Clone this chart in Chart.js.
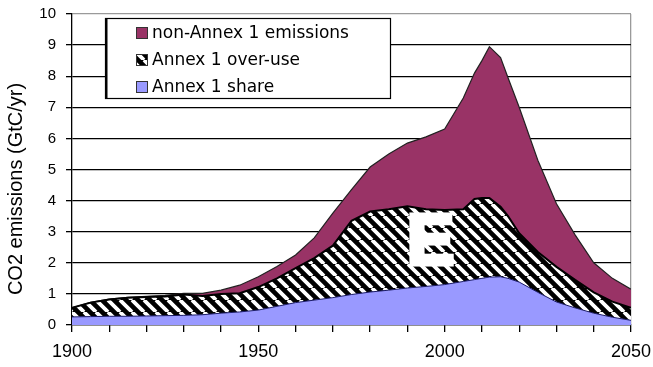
<!DOCTYPE html>
<html>
<head>
<meta charset="utf-8">
<script src="https://cdn.jsdelivr.net/npm/chart.js@4/dist/chart.umd.min.js"></script>
<style>
  html, body { margin: 0; padding: 0; background: #fff; }
  #wrap { width: 653px; height: 367px; position: relative; }
</style>
</head>
<body>
<div id="wrap"><canvas id="c" width="653" height="367"></canvas></div>
<script>
// Years of the emission path (GtC/yr per layer, stacked bottom to top)
const years = [1900, 1905, 1910, 1915, 1920, 1925, 1930, 1935, 1940, 1945,
               1950, 1955, 1960, 1965, 1970, 1975, 1980, 1985, 1990, 1995,
               2000, 2005, 2008, 2010, 2012, 2015, 2017, 2020, 2025, 2030,
               2035, 2040, 2045, 2050];

// Annex 1 fair share
const annexShare = [0.26, 0.27, 0.28, 0.28, 0.29, 0.30, 0.31, 0.33, 0.38, 0.42,
                    0.48, 0.60, 0.72, 0.80, 0.88, 0.98, 1.06, 1.12, 1.19, 1.24,
                    1.30, 1.40, 1.46, 1.50, 1.54, 1.55, 1.50, 1.38, 1.05, 0.74,
                    0.55, 0.38, 0.25, 0.15];

// Annex 1 emissions above its share
const annexOveruse = [0.29, 0.45, 0.54, 0.60, 0.61, 0.62, 0.67, 0.60, 0.62, 0.60,
                      0.74, 0.90, 1.11, 1.35, 1.67, 2.37, 2.59, 2.60, 2.63, 2.48,
                      2.40, 2.32, 2.59, 2.58, 2.54, 2.25, 2.00, 1.57, 1.30, 1.13,
                      0.90, 0.67, 0.50, 0.40];

// Non-Annex 1 emissions
const nonAnnex = [0.00, 0.01, 0.01, 0.01, 0.02, 0.03, 0.04, 0.09, 0.12, 0.26,
                  0.33, 0.38, 0.42, 0.65, 1.05, 1.00, 1.43, 1.78, 2.03, 2.33,
                  2.60, 3.58, 4.05, 4.42, 4.87, 4.80, 4.45, 4.05, 2.95, 2.03,
                  1.45, 0.95, 0.75, 0.60];

const seriesNames = ['Annex 1 share', 'Annex 1 over-use', 'non-Annex 1 emissions'];
const xTickLabels = [1900, 1950, 2000, 2050];
const yTicks = { min: 0, max: 10, step: 1 };
const yTitle = 'CO2 emissions (GtC/yr)';

// Marker letter placed in the over-use band
const bandMark = { text: 'E', year: 1996.2, value: 1.95 };

const toPoints = arr => arr.map((v, i) => ({ x: years[i], y: v }));

// Black fill with white diagonal hatching
function hatchPattern() {
  const s = 12;
  const c = document.createElement('canvas');
  c.width = s; c.height = s;
  const g = c.getContext('2d');
  g.fillStyle = '#000';
  g.fillRect(0, 0, s, s);
  g.strokeStyle = '#fff';
  g.lineWidth = 3.8;
  g.beginPath();
  for (const o of [-s, 0, s]) { g.moveTo(o, 0); g.lineTo(o + s, s); }
  g.stroke();
  return g.createPattern(c, 'repeat');
}

const hatch = hatchPattern();

// Boxed legend sitting inside the plot area
const insetLegend = {
  id: 'insetLegend',
  afterDraw(chart) {
    const { ctx, chartArea: a } = chart;
    const x0 = a.left + 33, y0 = a.top + 4, w = 286, h = 81;
    ctx.save();
    ctx.fillStyle = '#fff';
    ctx.fillRect(x0, y0, w, h);
    ctx.strokeStyle = '#000';
    ctx.lineWidth = 1.2;
    ctx.strokeRect(x0 + 0.5, y0 + 0.5, w - 1, h - 1);
    ctx.fillStyle = '#000';
    ctx.fillRect(x0, y0, 2.5, h);
    const items = chart.data.datasets.slice().reverse();
    items.forEach((ds, i) => {
      const cy = y0 + 15 + i * 27;
      const sx = x0 + 31, sz = 12;
      ctx.fillStyle = ds.backgroundColor;
      ctx.fillRect(sx, cy - sz / 2, sz, sz);
      ctx.strokeStyle = '#333';
      ctx.lineWidth = 1;
      ctx.strokeRect(sx + 0.5, cy - sz / 2 + 0.5, sz - 1, sz - 1);
      ctx.fillStyle = '#000';
      ctx.font = '17px "DejaVu Sans"';
      ctx.textAlign = 'left';
      ctx.textBaseline = 'middle';
      ctx.fillText(ds.label, x0 + 47, cy + 1);
    });
    ctx.restore();
  }
};

// Rotated axis title, sitting a little below the plot's mid-height
const axisTitle = {
  id: 'axisTitle',
  afterDraw(chart) {
    const { ctx, chartArea: a } = chart;
    ctx.save();
    ctx.translate(16, a.bottom - 136);
    ctx.rotate(-Math.PI / 2);
    ctx.font = '20px "Liberation Sans"';
    ctx.fillStyle = '#000';
    ctx.textAlign = 'center';
    ctx.textBaseline = 'middle';
    ctx.fillText(yTitle, 0, 0);
    ctx.restore();
  }
};

// Big white letter over the hatched band
const bandLetter = {
  id: 'bandLetter',
  afterDatasetsDraw(chart) {
    const { ctx, scales } = chart;
    const x = scales.x.getPixelForValue(bandMark.year);
    const y = scales.y.getPixelForValue(bandMark.value);
    ctx.save();
    ctx.font = 'bold 70px "Liberation Sans"';
    ctx.textAlign = 'center';
    ctx.textBaseline = 'alphabetic';
    ctx.fillStyle = '#fff';
    ctx.strokeStyle = '#fff';
    ctx.lineWidth = 5;
    ctx.lineJoin = 'miter';
    ctx.strokeText(bandMark.text, x, y);
    ctx.fillText(bandMark.text, x, y);
    ctx.restore();
  }
};

new Chart(document.getElementById('c'), {
  type: 'line',
  data: {
    datasets: [
      {
        label: seriesNames[0],
        data: toPoints(annexShare),
        backgroundColor: '#9999ff',
        borderColor: '#1a1a66',
        borderWidth: 1,
        fill: 'origin'
      },
      {
        label: seriesNames[1],
        data: toPoints(annexOveruse),
        backgroundColor: hatch,
        borderColor: '#000',
        borderWidth: 2,
        fill: '-1'
      },
      {
        label: seriesNames[2],
        data: toPoints(nonAnnex),
        backgroundColor: '#993366',
        borderColor: '#222',
        borderWidth: 1.2,
        fill: '-1'
      }
    ]
  },
  options: {
    responsive: false,
    animation: false,
    devicePixelRatio: 1,
    layout: { padding: { top: 14, right: 2, left: 0, bottom: 0 } },
    elements: { point: { radius: 0 }, line: { tension: 0 } },
    plugins: { legend: { display: false }, tooltip: { enabled: false } },
    scales: {
      x: {
        type: 'linear',
        min: 1900,
        max: 2050,
        ticks: {
          stepSize: 10,
          autoSkip: false,
          maxRotation: 0,
          color: '#000',
          padding: 9,
          font: { family: 'Liberation Sans', size: 18 },
          callback: v => (xTickLabels.includes(v) ? String(v) : '')
        },
        grid: {
          color: c => (c.tick && c.tick.value === 2050 ? '#9a9a9a' : 'rgba(0,0,0,0)'),
          tickColor: '#000',
          tickLength: 7,
          lineWidth: 1.3
        },
        border: { color: '#000', width: 1.3 },
        afterFit(s) { s.height = 42; s.paddingRight = 22; }
      },
      y: {
        stacked: true,
        min: yTicks.min,
        max: yTicks.max,
        ticks: {
          stepSize: yTicks.step,
          color: '#000',
          padding: 10,
          font: { family: 'Liberation Sans', size: 15 }
        },
        grid: {
          color: c => (c.tick && c.tick.value === 10 ? '#9a9a9a' : '#000'),
          tickColor: '#000',
          tickLength: 6,
          lineWidth: 1.3
        },
        border: { color: '#000', width: 1.3 },
        afterFit(s) { s.width = 72; s.paddingTop = 3; }
      }
    }
  },
  plugins: [insetLegend, bandLetter, axisTitle]
});
</script>
</body>
</html>
